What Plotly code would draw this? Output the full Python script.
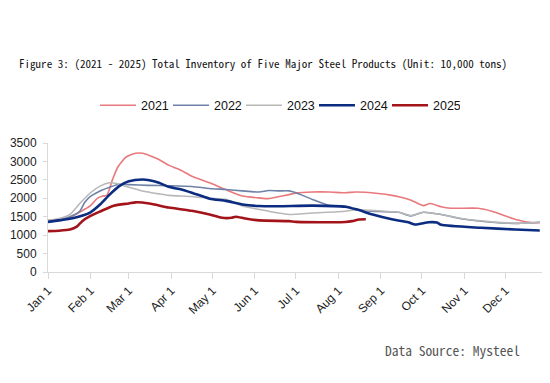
import plotly.graph_objects as go

months = ["01-01", "02-01", "03-01", "04-01", "05-01", "06-01", "07-01",
          "08-01", "09-01", "10-01", "11-01", "12-01"]
month_labels = ["Jan 1", "Feb 1", "Mar 1", "Apr 1", "May 1", "Jun 1", "Jul 1",
                "Aug 1", "Sep 1", "Oct 1", "Nov 1", "Dec 1"]

dates_2021 = ["01-01", "01-09", "01-17", "01-24", "02-01", "02-06", "02-10", "02-13",
              "02-17", "02-21", "02-27", "03-06", "03-11", "03-16", "03-23", "03-30",
              "04-07", "04-16", "04-29", "05-11", "05-23", "06-04", "06-11", "06-18",
              "06-26", "07-01", "07-13", "07-25", "08-06", "08-14", "08-30", "09-09",
              "09-14", "09-23", "10-02", "10-07", "10-15", "10-22", "11-11", "11-21",
              "12-01", "12-10", "12-20", "12-26"]
vals_2021 = [1400, 1430, 1480, 1620, 1800, 2000, 2060, 2080,
             2500, 2850, 3120, 3220, 3220, 3160, 3050, 2900,
             2780, 2600, 2420, 2230, 2060, 2010, 1990, 2040,
             2100, 2140, 2170, 2170, 2150, 2170, 2130, 2080,
             2040, 1950, 1800, 1860, 1770, 1730, 1730, 1650,
             1520, 1410, 1340, 1340]

dates_2022 = ["01-01", "01-09", "01-17", "01-24", "01-28", "02-01", "02-08", "02-15",
              "02-22", "03-01", "03-15", "04-01", "04-16", "05-01", "05-11", "05-23",
              "06-04", "06-11", "06-18", "06-26", "07-01", "07-13", "07-25", "08-06",
              "08-14", "08-30", "09-14", "09-23", "10-02", "10-15", "11-01", "11-21",
              "12-10", "12-26"]
vals_2022 = [1380, 1420, 1500, 1640, 1900, 2050, 2200, 2300,
             2380, 2370, 2350, 2340, 2320, 2260, 2240, 2200,
             2170, 2210, 2200, 2200, 2150, 1970, 1810, 1780,
             1680, 1640, 1620, 1520, 1620, 1560, 1430, 1350,
             1320, 1350]

dates_2023 = ["01-01", "01-09", "01-17", "01-24", "02-01", "02-08", "02-15", "02-20",
              "03-01", "03-11", "03-23", "03-30", "04-16", "04-29", "05-11", "05-23",
              "06-04", "06-18", "06-26", "07-13", "08-06", "08-14", "08-30", "09-14",
              "09-23", "10-02", "10-15", "10-30", "11-21", "12-10", "12-26"]
vals_2023 = [1400, 1450, 1560, 1850, 2150, 2330, 2420, 2400,
             2300, 2200, 2120, 2080, 2050, 2000, 1970, 1790,
             1700, 1600, 1560, 1600, 1650, 1690, 1660, 1620,
             1530, 1620, 1560, 1450, 1360, 1320, 1350]

dates_2024 = ["01-01", "01-09", "01-19", "02-01", "02-08", "02-15", "02-22", "03-01",
              "03-11", "03-16", "03-23", "03-30", "04-07", "04-16", "04-29", "05-11",
              "05-23", "06-04", "06-18", "07-13", "08-06", "08-14", "08-26", "09-09",
              "09-21", "09-26", "10-06", "10-12", "10-15", "11-13", "12-08", "12-26"]
vals_2024 = [1360, 1400, 1460, 1620, 1830, 2100, 2330, 2460,
             2510, 2490, 2420, 2310, 2250, 2150, 1990, 1930,
             1830, 1790, 1785, 1800, 1770, 1700, 1560, 1430,
             1350, 1290, 1350, 1340, 1280, 1200, 1155, 1128]

dates_2025 = ["01-01", "01-09", "01-17", "01-22", "01-26", "02-01", "02-08", "02-18",
              "03-01", "03-06", "03-16", "03-30", "04-16", "04-29", "05-08", "05-15",
              "05-18", "05-25", "06-04", "06-26", "07-01", "08-06", "08-11", "08-16",
              "08-21"]
vals_2025 = [1110, 1120, 1150, 1230, 1380, 1520, 1640, 1800,
             1860, 1890, 1860, 1750, 1660, 1560, 1470, 1470,
             1500, 1450, 1400, 1380, 1360, 1355, 1380, 1425,
             1430]

y_ticks = [0, 500, 1000, 1500, 2000, 2500, 3000, 3500]

series = [
    ("2021", dates_2021, vals_2021, "#E8797D", 1.6),
    ("2022", dates_2022, vals_2022, "#6E81A6", 1.6),
    ("2023", dates_2023, vals_2023, "#B8B8B8", 1.6),
    ("2024", dates_2024, vals_2024, "#0B2C80", 2.6),
    ("2025", dates_2025, vals_2025, "#A3141A", 2.6),
]

MONO = "Noto Sans Mono CJK SC, Noto Sans Mono CJK JP, DejaVu Sans Mono"


def full(d):
    return "2021-" + d


fig = go.Figure()
for name, ds, vs, color, w in series:
    fig.add_trace(go.Scatter(
        x=[full(d) for d in ds], y=vs, name=name, mode="lines",
        line=dict(color=color, width=w, shape="spline", smoothing=0.6),
    ))

fig.update_layout(
    width=550, height=383,
    paper_bgcolor="white", plot_bgcolor="white",
    margin=dict(l=40, r=10, t=135, b=119),
    font=dict(family="Liberation Sans, Arial", size=12, color="#222"),
    title=dict(
        text="Figure 3: (2021 - 2025) Total Inventory of Five Major Steel Products (Unit: 10,000 tons)",
        font=dict(family=MONO, size=11.1, color="#111"),
        x=0.4636, xanchor="center", y=0.854, yanchor="middle",
    ),
    legend=dict(
        orientation="h", x=0.094, xanchor="left", y=1.29, yanchor="middle",
        font=dict(size=12.5, color="#111"), entrywidth=22, itemwidth=36,
        bgcolor="rgba(0,0,0,0)",
    ),
    showlegend=True,
    xaxis=dict(
        type="date", range=[full("01-01"), "2022-01-01"],
        tickvals=[full(m) for m in months], ticktext=month_labels,
        tickangle=-45, ticks="outside", ticklen=6, tickcolor="#D9D9D9",
        showline=True, linecolor="#D9D9D9", linewidth=1,
        showgrid=False, zeroline=False, automargin=False,
        tickfont=dict(size=12, color="#222"),
    ),
    yaxis=dict(
        range=[0, 3500], tickvals=y_ticks,
        ticks="outside", ticklen=4, tickcolor="#D9D9D9",
        showline=True, linecolor="#D9D9D9", linewidth=1,
        showgrid=False, zeroline=False, automargin=False,
        ticklabelstandoff=4,
        tickfont=dict(size=12, color="#222"),
    ),
    annotations=[dict(
        text="Data Source: Mysteel", xref="paper", yref="paper",
        x=0.948, xanchor="right", y=-0.605, yanchor="middle", showarrow=False,
        font=dict(family=MONO, size=13.5, color="#555"),
    )],
)

fig.write_html("out.html")
